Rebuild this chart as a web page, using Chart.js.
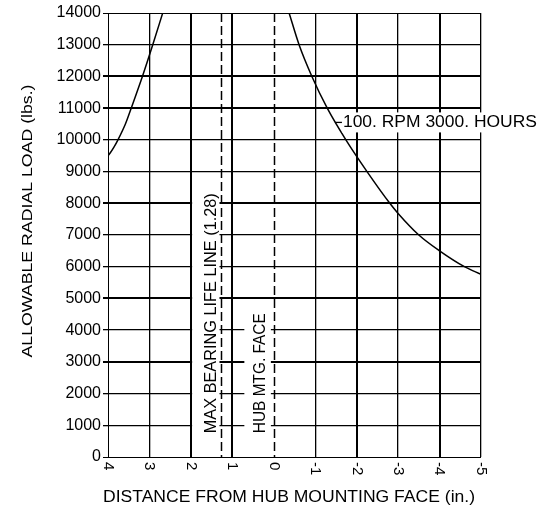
<!DOCTYPE html>
<html>
<head>
<meta charset="utf-8">
<script src="https://cdn.jsdelivr.net/npm/chart.js@4.4.0/dist/chart.umd.min.js"></script>
<style>
  body { margin: 0; background: #fff; }
  #wrap { width: 544px; height: 509px; }
</style>
</head>
<body>
<div id="wrap"><canvas id="loadChart"></canvas></div>
<script>
// values
const leftX = [4, 3.94, 3.86, 3.76, 3.58, 3.44, 3.17, 2.92, 2.68];
const leftLoad = [9500, 9600, 9760, 10000, 10500, 11000, 12000, 13000, 14000];
const rightX = [-0.37, -0.61, -0.92, -1.29, -1.74, -2.25, -2.8, -3, -3.5, -4, -4.6, -5];
const rightLoad = [14000, 13000, 12000, 11000, 10000, 9000, 8000, 7680, 7000, 6500, 6000, 5760];

const xMin = -5, xMax = 4;
const yMin = 0, yMax = 14000, yStep = 1000;
const maxBearingLine = 1.28;
const hubFaceLine = 0;

const curveLabel = '100. RPM 3000. HOURS';
const maxLabel = 'MAX BEARING LIFE LINE (1.28)';
const hubLabel = 'HUB MTG. FACE';
const yTitle = 'ALLOWABLE RADIAL LOAD (lbs.)';
const xTitle = 'DISTANCE FROM HUB MOUNTING FACE (in.)';

// heavier grid lines in the scan
const thickY = [3000, 5000, 8000, 11000, 12000];
const thickX = [2, 1, -2, -4];

const FONT = "'Liberation Sans', Arial, sans-serif";
Chart.defaults.font.family = FONT;
Chart.defaults.color = '#000';

function toPoints(xs, ys) {
  return xs.map((v, i) => ({ x: v, y: ys[i] }));
}

// draw text squeezed/stretched to a given length (the scan is slightly wide)
function fitText(ctx, txt, width) {
  const m = ctx.measureText(txt).width;
  ctx.scale(width / m, 1);
  ctx.fillText(txt, 0, 0);
}

const overlay = {
  id: 'overlay',
  afterDraw(chart) {
    const ctx = chart.ctx;
    const a = chart.chartArea;
    const x = chart.scales.x, y = chart.scales.y;

    function box(x0, x1, y0, y1) {
      const l = x.getPixelForValue(x0), r = x.getPixelForValue(x1);
      const t = y.getPixelForValue(y1), b = y.getPixelForValue(y0);
      ctx.fillRect(Math.min(l, r), t, Math.abs(r - l), b - t);
    }

    ctx.save();
    ctx.fillStyle = '#fff';
    box(1.97, 1.31, 300, 8400);
    box(0.71, 0.07, 300, 4600);

    // dashed verticals
    ctx.strokeStyle = '#000';
    ctx.lineWidth = 1.5;
    ctx.setLineDash([9, 4]);
    [maxBearingLine, hubFaceLine].forEach(v => {
      const px = Math.round(x.getPixelForValue(v)) + 0.5;
      ctx.beginPath();
      ctx.moveTo(px, a.top);
      ctx.lineTo(px, a.bottom);
      ctx.stroke();
    });
    ctx.setLineDash([]);

    ctx.fillStyle = '#000';

    // x tick labels, turned clockwise like the original
    ctx.font = '15px ' + FONT;
    ctx.textAlign = 'left';
    ctx.textBaseline = 'middle';
    x.ticks.forEach(t => {
      ctx.save();
      ctx.translate(x.getPixelForValue(t.value), a.bottom + 5);
      ctx.rotate(Math.PI / 2);
      ctx.fillText(String(t.value), 0, 0);
      ctx.restore();
    });

    // vertical labels beside the dashed lines
    ctx.font = '16px ' + FONT;
    ctx.save();
    ctx.translate(x.getPixelForValue(1.49), y.getPixelForValue(750));
    ctx.rotate(-Math.PI / 2);
    fitText(ctx, maxLabel, 240);
    ctx.restore();

    ctx.save();
    ctx.translate(x.getPixelForValue(0.33), y.getPixelForValue(750));
    ctx.rotate(-Math.PI / 2);
    fitText(ctx, hubLabel, 120);
    ctx.restore();

    // curve label with leader tick
    const lx = x.getPixelForValue(-1.5), ly = y.getPixelForValue(10550);
    ctx.fillStyle = '#fff';
    ctx.fillRect(lx + 6, ly - 10, 200, 20);
    ctx.fillStyle = '#000';
    ctx.lineWidth = 1.3;
    ctx.beginPath();
    ctx.moveTo(lx - 1, ly);
    ctx.lineTo(lx + 6, ly);
    ctx.stroke();
    ctx.save();
    ctx.translate(lx + 7, ly);
    fitText(ctx, curveLabel, 194);
    ctx.restore();

    // axis titles
    ctx.textAlign = 'center';
    ctx.font = '15px ' + FONT;
    ctx.save();
    ctx.translate(28, 221);
    ctx.rotate(-Math.PI / 2);
    fitText(ctx, yTitle, 273);
    ctx.restore();

    ctx.font = '16px ' + FONT;
    ctx.save();
    ctx.translate(289, 498);
    fitText(ctx, xTitle, 372);
    ctx.restore();

    ctx.restore();
  }
};

const ctx = document.getElementById('loadChart').getContext('2d');

const loadChart = new Chart(ctx, {
  type: 'scatter',
  data: {
    datasets: [
      {
        label: 'left',
        data: toPoints(leftX, leftLoad),
        showLine: true,
        borderColor: '#000',
        borderWidth: 1.5,
        pointRadius: 0,
        cubicInterpolationMode: 'monotone'
      },
      {
        label: '100. RPM 3000. HOURS',
        data: toPoints(rightX, rightLoad),
        showLine: true,
        borderColor: '#000',
        borderWidth: 1.5,
        pointRadius: 0,
        cubicInterpolationMode: 'monotone'
      }
    ]
  },
  options: {
    responsive: true,
    maintainAspectRatio: false,
    animation: false,
    layout: {
      padding: { left: 0, top: 13, right: 63, bottom: 0 }
    },
    plugins: {
      legend: { display: false },
      tooltip: { enabled: false }
    },
    scales: {
      x: {
        type: 'linear',
        min: xMin,
        max: xMax,
        reverse: true,
        border: { display: false },
        ticks: { display: false, stepSize: 1 },
        grid: {
          drawTicks: false,
          color: c => (c.tick && c.tick.value === hubFaceLine) ? 'rgba(0,0,0,0)' : '#000',
          lineWidth: c => {
            if (!c.tick) return 1.2;
            if (thickX.includes(c.tick.value)) return 2;
            if (c.tick.value === xMax) return 1;
            return 1.3;
          }
        },
        afterFit: s => { s.height = 52; }
      },
      y: {
        min: yMin,
        max: yMax,
        border: { display: false },
        ticks: {
          stepSize: yStep,
          padding: 2,
          font: { size: 16 },
          color: '#000',
          callback: v => String(v)
        },
        grid: {
          tickLength: 5,
          color: '#000',
          lineWidth: c => {
            if (!c.tick) return 1.2;
            if (thickY.includes(c.tick.value)) return 2;
            if (c.tick.value === yMin || c.tick.value === yMax) return 1;
            return 1.3;
          }
        },
        afterFit: s => { s.width = 108; }
      }
    }
  },
  plugins: [overlay]
});
</script>
</body>
</html>
